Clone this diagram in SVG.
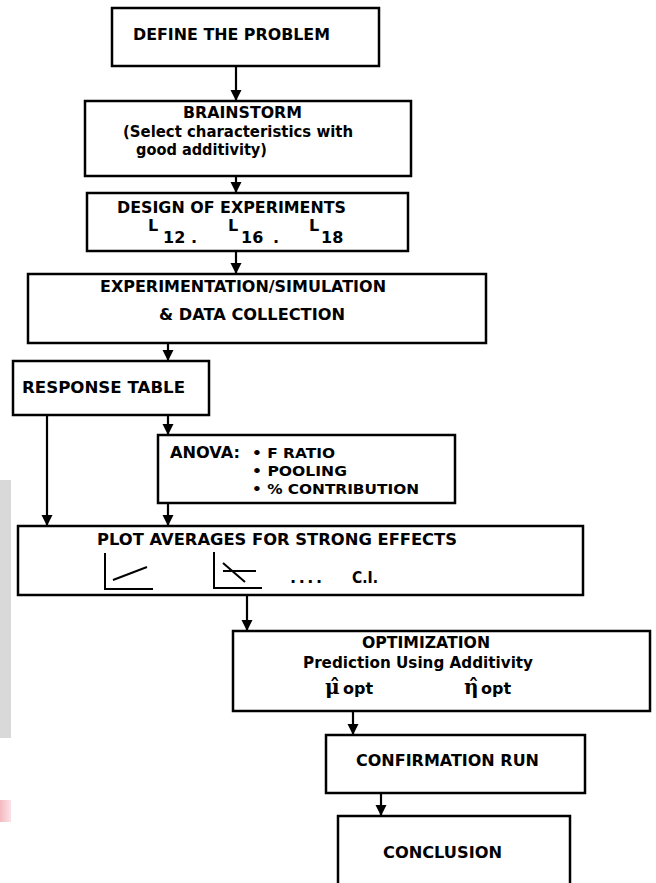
<svg xmlns="http://www.w3.org/2000/svg" width="656" height="883" viewBox="0 0 656 883">
<defs>
<marker id="ah" markerUnits="userSpaceOnUse" markerWidth="12" markerHeight="12" refX="11" refY="6" orient="auto">
<path d="M0,0.5 L11,6 L0,11.5 z" fill="#000"/>
</marker>
<linearGradient id="pk" x1="0" y1="0" x2="1" y2="0">
<stop offset="0" stop-color="#f4b9c0"/>
<stop offset="1" stop-color="#fbe3e6"/>
</linearGradient>
</defs>
<style>
.box{fill:#fff;stroke:#000;stroke-width:2.5}
.t{font-family:"DejaVu Sans","Liberation Sans",Arial,sans-serif;font-weight:bold;font-size:16px;fill:#000}
.s{font-size:14px}
.c line{stroke:#000;stroke-width:2.2;marker-end:url(#ah)}
.ic{stroke:#000;stroke-width:2;fill:none}
</style>
<rect x="0" y="480" width="11" height="258" fill="#d9d9d9"/>
<rect x="0" y="800" width="11" height="22" fill="url(#pk)"/>

<g id="define">
<rect class="box" x="112" y="8" width="267" height="58"/>
<text class="t" x="133" y="40" textLength="197" lengthAdjust="spacingAndGlyphs">DEFINE THE PROBLEM</text>
</g>
<g id="brainstorm">
<rect class="box" x="85" y="101" width="326" height="75"/>
<text class="t" x="183" y="118" textLength="119" lengthAdjust="spacingAndGlyphs">BRAINSTORM</text>
<text class="t" x="123" y="137" textLength="230" lengthAdjust="spacingAndGlyphs">(Select characteristics with</text>
<text class="t" x="136" y="155" textLength="131" lengthAdjust="spacingAndGlyphs">good additivity)</text>
</g>
<g id="design">
<rect class="box" x="87" y="193" width="321" height="58"/>
<text class="t" x="117" y="213" textLength="229" lengthAdjust="spacingAndGlyphs">DESIGN OF EXPERIMENTS</text>
<text class="t" x="148" y="231" font-size="15">L</text>
<text class="t" x="163" y="243" font-size="15">12</text>
<text class="t" x="191" y="243" font-size="15">.</text>
<text class="t" x="228" y="231" font-size="15">L</text>
<text class="t" x="241" y="243" font-size="15">16</text>
<text class="t" x="273" y="243" font-size="15">.</text>
<text class="t" x="309" y="231" font-size="15">L</text>
<text class="t" x="321" y="243" font-size="15">18</text>
</g>
<g id="experimentation">
<rect class="box" x="28" y="274" width="458" height="69"/>
<text class="t" x="100" y="292" textLength="286" lengthAdjust="spacingAndGlyphs">EXPERIMENTATION/SIMULATION</text>
<text class="t" x="159" y="320" textLength="186" lengthAdjust="spacingAndGlyphs">&amp; DATA COLLECTION</text>
</g>
<g id="response">
<rect class="box" x="13" y="361" width="196" height="54"/>
<text class="t" x="22" y="393" textLength="163" lengthAdjust="spacingAndGlyphs">RESPONSE TABLE</text>
</g>
<g id="anova">
<rect class="box" x="158" y="435" width="297" height="68"/>
<text class="t" x="170" y="458" textLength="70" lengthAdjust="spacingAndGlyphs">ANOVA:</text>
<text class="t s" x="252" y="458" textLength="83" lengthAdjust="spacingAndGlyphs">• F RATIO</text>
<text class="t s" x="252" y="476" textLength="95" lengthAdjust="spacingAndGlyphs">• POOLING</text>
<text class="t s" x="252" y="494" textLength="167" lengthAdjust="spacingAndGlyphs">• % CONTRIBUTION</text>
</g>
<g id="plot">
<rect class="box" x="18" y="526" width="565" height="69"/>
<text class="t" x="97" y="545" textLength="360" lengthAdjust="spacingAndGlyphs">PLOT AVERAGES FOR STRONG EFFECTS</text>
<path class="ic" d="M105,553 V589 H153 M113,580 L147,567"/>
<path class="ic" d="M214,552 V588 H262 M223,571 H256 M223,563 L245,582"/>
<text class="t" x="290" y="583" textLength="32" lengthAdjust="spacing">....</text>
<text class="t" x="352" y="583" textLength="26" lengthAdjust="spacingAndGlyphs">C.I.</text>
</g>
<g id="optimization">
<rect class="box" x="233" y="631" width="417" height="80"/>
<text class="t" x="362" y="648" textLength="128" lengthAdjust="spacingAndGlyphs">OPTIMIZATION</text>
<text class="t" x="303" y="668" textLength="230" lengthAdjust="spacingAndGlyphs">Prediction Using Additivity</text>
<text x="325" y="694" font-size="20" font-weight="bold" style="font-family:'DejaVu Serif',serif">μ̂</text>
<text class="t" x="343" y="694">opt</text>
<text x="464" y="694" font-size="20" font-weight="bold" style="font-family:'DejaVu Serif',serif">η̂</text>
<text class="t" x="481" y="694">opt</text>
</g>
<g id="confirmation">
<rect class="box" x="326" y="735" width="259" height="58"/>
<text class="t" x="356" y="766" textLength="183" lengthAdjust="spacingAndGlyphs">CONFIRMATION RUN</text>
</g>
<g id="conclusion">
<rect class="box" x="338" y="816" width="232" height="80"/>
<text class="t" x="383" y="858" textLength="119" lengthAdjust="spacingAndGlyphs">CONCLUSION</text>
</g>
<g id="connectors" class="c">
<line x1="236" y1="66" x2="236" y2="101"/>
<line x1="236" y1="176" x2="236" y2="193"/>
<line x1="236" y1="251" x2="236" y2="274"/>
<line x1="168" y1="343" x2="168" y2="361"/>
<line x1="168" y1="415" x2="168" y2="435"/>
<line x1="47" y1="415" x2="47" y2="526"/>
<line x1="168" y1="503" x2="168" y2="526"/>
<line x1="247" y1="595" x2="247" y2="631"/>
<line x1="353" y1="711" x2="353" y2="735"/>
<line x1="381" y1="793" x2="381" y2="816"/>
</g>
</svg>
